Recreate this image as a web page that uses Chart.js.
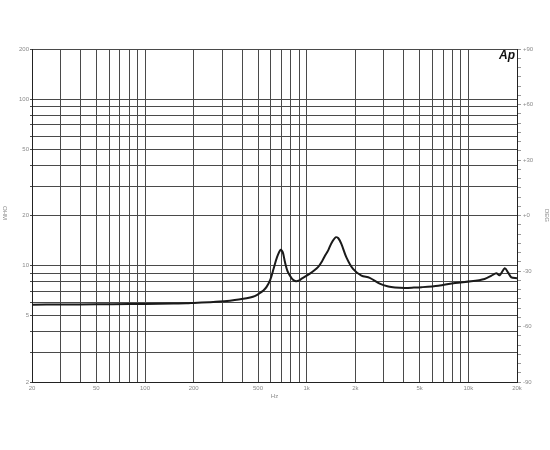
<!DOCTYPE html>
<html>
<head>
<meta charset="utf-8">
<script src="https://cdn.jsdelivr.net/npm/chart.js@4.4.0/dist/chart.umd.min.js"></script>
<style>
html,body{margin:0;padding:0;background:#fff;}
canvas{display:block;}
</style>
</head>
<body>
<canvas id="c" width="550" height="450"></canvas>
<script>
// Frequency (Hz) and impedance (ohm)
const freqHz = [20, 30, 50, 80, 100, 150, 180, 200, 250, 290, 335, 380, 425, 465, 494, 514, 540, 565, 595, 625, 655, 690, 712, 734, 760, 788, 820, 859, 900, 931, 1047, 1175, 1250, 1300, 1356, 1420, 1512, 1570, 1639, 1761, 1935, 2181, 2455, 2830, 3200, 3518, 4058, 4600, 5142, 6525, 8276, 10400, 12600, 13900, 14900, 15600, 16800, 17600, 18450, 20000];
const impedanceOhm = [5.83, 5.84, 5.86, 5.88, 5.89, 5.92, 5.94, 5.97, 6.03, 6.08, 6.16, 6.25, 6.36, 6.5, 6.68, 6.85, 7.1, 7.45, 8.2, 9.6, 11.2, 12.45, 12.0, 10.5, 9.3, 8.7, 8.25, 8.05, 8.15, 8.35, 8.95, 9.8, 10.7, 11.5, 12.3, 13.6, 14.8, 14.6, 13.5, 11.2, 9.55, 8.7, 8.45, 7.8, 7.5, 7.4, 7.35, 7.38, 7.42, 7.58, 7.87, 8.05, 8.32, 8.7, 9.0, 8.75, 9.65, 9.1, 8.5, 8.4];

const xGridValues = [20,30,40,50,60,70,80,90,100,200,300,400,500,600,700,800,900,1000,2000,3000,4000,5000,6000,7000,8000,9000,10000,20000];
const xTickLabels = {20:'20',50:'50',100:'100',200:'200',500:'500',1000:'1k',2000:'2k',5000:'5k',10000:'10k',20000:'20k'};
const yGridValues = [2,3,4,5,6,7,8,9,10,20,30,40,50,60,70,80,90,100,200];
const yTickLabels = {2:'2',5:'5',10:'10',20:'20',50:'50',100:'100',200:'200'};
const phaseLabels = {90:'+90',60:'+60',30:'+30',0:'+0','-30':'-30','-60':'-60','-90':'-90'};

const tickFont = {family: 'Liberation Sans', size: 6};
const tickColor = '#8a8a8a';
const gridColor = '#4a4a4a';

const decor = {
  id: 'decor',
  afterDraw(chart) {
    const ctx = chart.ctx;
    ctx.save();
    ctx.fillStyle = tickColor;
    ctx.font = '6px Liberation Sans';
    ctx.textAlign = 'center';
    ctx.textBaseline = 'middle';
    ctx.translate(5, 213);
    ctx.rotate(Math.PI / 2);
    ctx.fillText('OHM', 0, 0);
    ctx.restore();
    ctx.save();
    ctx.fillStyle = '#111';
    ctx.font = 'italic bold 12px Liberation Sans';
    ctx.textAlign = 'right';
    ctx.textBaseline = 'alphabetic';
    ctx.fillText('Ap', 515, 59);
    ctx.restore();
  }
};

new Chart(document.getElementById('c'), {
  type: 'line',
  data: {
    datasets: [{
      data: freqHz.map((f, i) => ({x: f, y: impedanceOhm[i]})),
      borderColor: '#1a1a1a',
      borderWidth: 2,
      pointRadius: 0,
      tension: 0.3,
      fill: false,
      yAxisID: 'y'
    }]
  },
  options: {
    responsive: false,
    animation: false,
    layout: {padding: {top: 49, left: 0, right: 0, bottom: 0}},
    plugins: {legend: {display: false}, tooltip: {enabled: false}},
    scales: {
      x: {
        type: 'logarithmic',
        position: 'bottom',
        min: 20, max: 20000,
        afterBuildTicks: s => { s.ticks = xGridValues.map(v => ({value: v})); },
        afterFit: s => { s.height = 68; },
        ticks: {
          autoSkip: false, maxRotation: 0, minRotation: 0,
          font: tickFont, color: tickColor, padding: 3,
          callback: v => xTickLabels[v] || ''
        },
        grid: {color: gridColor, lineWidth: 1, drawTicks: false},
        border: {display: true, color: '#222'},
        title: {display: true, text: 'Hz', font: tickFont, color: tickColor, padding: {top: 0, bottom: 50}}
      },
      y: {
        type: 'logarithmic',
        position: 'left',
        min: 2, max: 200,
        afterBuildTicks: s => { s.ticks = yGridValues.map(v => ({value: v})); },
        afterFit: s => { s.width = 32; },
        ticks: {
          autoSkip: false, font: tickFont, color: tickColor, padding: 1,
          callback: v => yTickLabels[v] || ''
        },
        grid: {color: gridColor, lineWidth: 1, tickLength: 2},
        border: {display: true, color: '#222'}
      },
      y2: {
        type: 'linear',
        position: 'right',
        min: -90, max: 90,
        afterBuildTicks: s => { const t = []; for (let v = -90; v <= 90; v += 5) t.push({value: v}); s.ticks = t; },
        afterFit: s => { s.width = 33; },
        ticks: {
          autoSkip: false, font: tickFont, color: tickColor, padding: 2,
          callback: v => phaseLabels[v] || ''
        },
        grid: {drawOnChartArea: false, color: '#999', tickLength: 4},
        border: {display: true, color: '#222'},
        title: {display: true, text: 'DEG', font: tickFont, color: tickColor, padding: {top: 0, bottom: 0}}
      }
    }
  },
  plugins: [decor]
});
</script>
</body>
</html>
